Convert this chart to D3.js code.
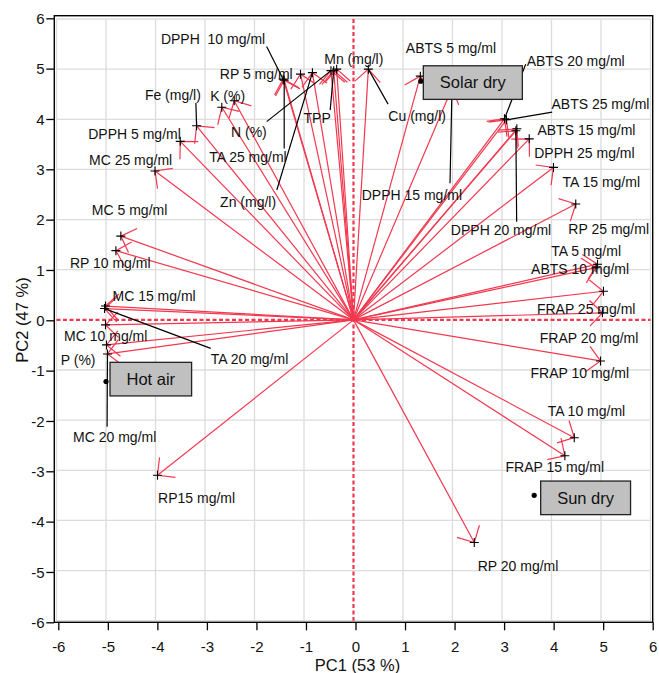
<!DOCTYPE html>
<html>
<head>
<meta charset="utf-8">
<script src="https://cdn.jsdelivr.net/npm/d3@7"></script>
<style>
  body { margin: 0; background: #fff; }
  text { font-family: "Liberation Sans", Arial, Helvetica, sans-serif; fill: #111; }
</style>
</head>
<body>
<script>
(function(){

// loadings (variables)
var varNames = ["DPPH  10 mg/ml", "TA 25 mg/ml", "RP 5 mg/ml", "Zn (mg/l)", "N (%)", "TPP", "Mn (mg/l)", "Cu (mg/l)",
    "Fe (mg/l)", "K (%)", "", "DPPH 5 mg/ml", "MC 25 mg/ml", "ABTS 5 mg/ml", "DPPH 15 mg/ml", "ABTS 20 mg/ml",
    "ABTS 25 mg/ml", "ABTS 15 mg/ml", "DPPH 20 mg/ml", "DPPH 25 mg/ml", "TA 15 mg/ml", "RP 25 mg/ml", "TA 5 mg/ml",
    "ABTS 10 mg/ml", "FRAP 25 mg/ml", "FRAP 20 mg/ml", "FRAP 10 mg/ml", "TA 10 mg/ml", "FRAP 15 mg/ml", "RP 20 mg/ml",
    "RP15 mg/ml", "MC 5 mg/ml", "RP 10 mg/ml", "MC 15 mg/ml", "TA 20 mg/ml", "MC 10 mg/ml", "P (%)", "MC 20 mg/ml"];
var pc1Loadings = [-1.42, -1.40, -1.07, -0.83, -0.455, -0.40, -0.34, 0.30,
    -3.17, -2.66, -2.41, -3.50, -4.01, 1.35, 1.99, 3.05,
    3.09, 3.30, 3.28, 3.55, 4.04, 4.49, 4.93,
    4.90, 5.05, 5.03, 4.99, 4.46, 4.27, 2.44,
    -3.96, -4.70, -4.80, -5.01, -5.03, -5.01, -4.99, -4.97];
var pc2Loadings = [4.80, 4.78, 4.90, 4.93, 4.97, 4.97, 5.00, 5.00,
    3.87, 4.24, 4.37, 3.56, 2.97, 4.86, 4.62, 4.01,
    3.99, 3.81, 3.77, 3.61, 3.04, 2.31, 1.11,
    1.04, 0.57, 0.14, -0.82, -2.35, -2.71, -4.44,
    -3.10, 1.67, 1.38, 0.275, 0.225, -0.10, -0.50, -0.68];

// scores (samples)
var scoreNames = ["Solar dry", "Hot air", "Sun dry"];
var scorePC1 = [1.36, -5.0, 3.65];
var scorePC2 = [4.76, -1.23, -3.50];

// axis ticks
var tickValues = [-6, -5, -4, -3, -2, -1, 0, 1, 2, 3, 4, 5, 6];

// label placement, px offset from the point: [dx, dy, leaderDx, leaderDy]
var labelLayout = [
    [-122.3, -40, -16.6, -32.6], [-75, 77.3, 0, 68.3], [-80.7, 0], [-92.3, 129, -35.6, 117.3],
    [-100, 61, -64.3, 51], [-30.2, 47.8, -3.5, 39.5], [-12.4, -9.7], [20, 47, 19.7, 35],
    [-51.7, -30.7, -0.7, -22.7], [-11.7, -11.6], null, [-92, -7.5], [-66, -11], [-14.5, -28],
    [-90.3, 107, -2, 95], [22.2, -57.8, 21.2, -54.5], [45, -16, 45.7, -7.6], [20.6, 1],
    [-65, 99, 0.8, 91], [5, 14.3], [9, 14.4], [-7.4, 25.3], [-46.3, -13.3],
    [-65, 1.8], [-66.6, 18], [-62.7, 25], [-70, 12.3], [-26.6, -27], [-59.3, 11], [3.4, 23.7],
    [0.6, 23.3], [-29, -26], [-46, 12], [7, -10.3], [106.2, 50.8, 106.2, 39.8], [-41.4, 11.7],
    [-45.7, 15], [-34.4, 83.3, -0.4, 72.7]
];
// box offset from score dot
var boxLayout = [[2.5, -15.4], [4, -19.2], [6.5, -14.3]];

var width = 659, height = 673;
var red = "#f2384f";

var svg = d3.select("body").append("svg")
    .attr("width", width)
    .attr("height", height);

// data scales (plot area) and axis scales (slightly shifted, like the original)
var x = d3.scaleLinear().domain([-6, 6]).range([56.5, 650.5]);
var y = d3.scaleLinear().domain([6, -6]).range([19, 620.7]);
var xAxisScale = d3.scaleLinear().domain([-6, 6]).range([58.3, 652.7]);
var yAxisScale = d3.scaleLinear().domain([6, -6]).range([18.3, 622.3]);

// grid
var grid = svg.append("g").attr("class", "grid");
grid.selectAll(".vgrid")
    .data(tickValues.filter(function(d){ return d !== 0; }))
    .enter().append("line")
    .attr("x1", function(d){ return x(d); })
    .attr("x2", function(d){ return x(d); })
    .attr("y1", y(6)).attr("y2", y(-6))
    .attr("stroke", "#dcdcdc").attr("stroke-width", 1.3);
grid.selectAll(".hgrid")
    .data(tickValues.filter(function(d){ return d !== 0; }))
    .enter().append("line")
    .attr("y1", function(d){ return y(d); })
    .attr("y2", function(d){ return y(d); })
    .attr("x1", x(-6)).attr("x2", x(6))
    .attr("stroke", "#dcdcdc").attr("stroke-width", 1.3);

// zero lines (dotted red)
svg.append("line")
    .attr("x1", x(0)).attr("x2", x(0))
    .attr("y1", y(6)).attr("y2", y(-6))
    .attr("stroke", red).attr("stroke-width", 2.2)
    .attr("stroke-dasharray", "4,2.5");
svg.append("line")
    .attr("y1", y(0)).attr("y2", y(0))
    .attr("x1", x(-6)).attr("x2", x(6))
    .attr("stroke", red).attr("stroke-width", 2.2)
    .attr("stroke-dasharray", "4,2.5");

// frame
svg.append("rect")
    .attr("x", 54.3).attr("y", 15.7)
    .attr("width", 652.7 - 54.3).attr("height", 622.3 - 15.7)
    .attr("fill", "none").attr("stroke", "#000").attr("stroke-width", 1.4);

// axes (plain hyphen for negatives, as in the original)
var fmt = function(d){ return String(d); };
var xAxis = svg.append("g")
    .attr("transform", "translate(0,622.3)")
    .call(d3.axisBottom(xAxisScale).tickValues(tickValues).tickSize(8).tickPadding(10.7).tickFormat(fmt));
var yAxis = svg.append("g")
    .attr("transform", "translate(54.3,0)")
    .call(d3.axisLeft(yAxisScale).tickValues(tickValues).tickSize(8).tickPadding(1.8).tickFormat(fmt));
[xAxis, yAxis].forEach(function(g){
    g.select(".domain").remove();
    g.selectAll(".tick line").attr("stroke", "#000").attr("stroke-width", 1.3);
    g.selectAll(".tick text")
        .style("font-family", "\"Liberation Sans\", Arial, sans-serif")
        .style("font-size", "15px").attr("fill", "#111");
});
yAxis.selectAll(".tick text").attr("dy", "0.34em");

// axis titles
svg.append("text")
    .attr("x", 357.5).attr("y", 671)
    .attr("text-anchor", "middle")
    .style("font-size", "16.5px")
    .text("PC1 (53 %)");
svg.append("text")
    .attr("transform", "translate(27.5,320) rotate(-90)")
    .attr("text-anchor", "middle")
    .style("font-size", "16.5px")
    .text("PC2 (47 %)");

// build loading records
var loadings = varNames.map(function(name, i){
    return { name: name, pc1: pc1Loadings[i], pc2: pc2Loadings[i], layout: labelLayout[i] };
});

// arrows
var arrows = svg.append("g").attr("class", "arrows");
arrows.selectAll(".shaft")
    .data(loadings)
    .enter().append("line")
    .attr("x1", x(0)).attr("y1", y(0))
    .attr("x2", function(d){ return x(d.pc1); })
    .attr("y2", function(d){ return y(d.pc2); })
    .attr("stroke", red).attr("stroke-width", 1.2);

// arrowheads: two barbs at +-45 deg, 18px
var headLen = 18, headAng = Math.PI / 4;
arrows.selectAll(".head")
    .data(loadings)
    .enter().append("path")
    .attr("d", function(d){
        var tx = x(d.pc1), ty = y(d.pc2);
        var back = Math.atan2(y(0) - ty, x(0) - tx);
        var a1 = back + headAng, a2 = back - headAng;
        return "M" + (tx + headLen * Math.cos(a1)) + "," + (ty + headLen * Math.sin(a1)) +
            "L" + tx + "," + ty +
            "L" + (tx + headLen * Math.cos(a2)) + "," + (ty + headLen * Math.sin(a2));
    })
    .attr("fill", "none").attr("stroke", red).attr("stroke-width", 1.2);

// crosses
svg.append("g").selectAll("path")
    .data(loadings)
    .enter().append("path")
    .attr("d", function(d){
        var cx = x(d.pc1), cy = y(d.pc2), s = 4.5;
        return "M" + (cx - s) + "," + cy + "H" + (cx + s) + "M" + cx + "," + (cy - s) + "V" + (cy + s);
    })
    .attr("stroke", "#000").attr("stroke-width", 1.1);

// leader lines
var labelled = loadings.filter(function(d){ return d.layout && d.name !== ""; });
svg.append("g").selectAll("line")
    .data(labelled.filter(function(d){ return d.layout.length > 2; }))
    .enter().append("line")
    .attr("x1", function(d){ return x(d.pc1) + d.layout[2]; })
    .attr("y1", function(d){ return y(d.pc2) + d.layout[3]; })
    .attr("x2", function(d){ return x(d.pc1); })
    .attr("y2", function(d){ return y(d.pc2); })
    .attr("stroke", "#000").attr("stroke-width", 1.2);

// labels
svg.append("g").selectAll("text")
    .data(labelled)
    .enter().append("text")
    .attr("x", function(d){ return x(d.pc1) + d.layout[0]; })
    .attr("y", function(d){ return y(d.pc2) + d.layout[1]; })
    .attr("dy", "0.35em")
    .style("font-size", "14px")
    .style("white-space", "pre")
    .text(function(d){ return d.name; });

// scores: dots and grey boxes
var scores = scoreNames.map(function(name, i){
    return { name: name, pc1: scorePC1[i], pc2: scorePC2[i], box: boxLayout[i] };
});
var sg = svg.append("g").attr("class", "scores");
sg.selectAll("circle")
    .data(scores)
    .enter().append("circle")
    .attr("cx", function(d){ return x(d.pc1); })
    .attr("cy", function(d){ return y(d.pc2); })
    .attr("r", 2.6)
    .attr("fill", "#000");

scores.forEach(function(d){
    var g = sg.append("g");
    var bx = x(d.pc1) + d.box[0], by = y(d.pc2) + d.box[1];
    var rect = g.append("rect").attr("fill", "#c0c0c0").attr("stroke", "#222").attr("stroke-width", 1.3);
    var t = g.append("text")
        .style("font-size", "16.5px")
        .attr("dy", "0.35em")
        .text(d.name);
    var tw = t.node().getComputedTextLength();
    var pad = 16.5, bh = 33.6;
    rect.attr("x", bx).attr("y", by).attr("width", tw + 2 * pad).attr("height", bh);
    t.attr("x", bx + pad).attr("y", by + bh / 2);
});

})();
</script>
</body>
</html>
